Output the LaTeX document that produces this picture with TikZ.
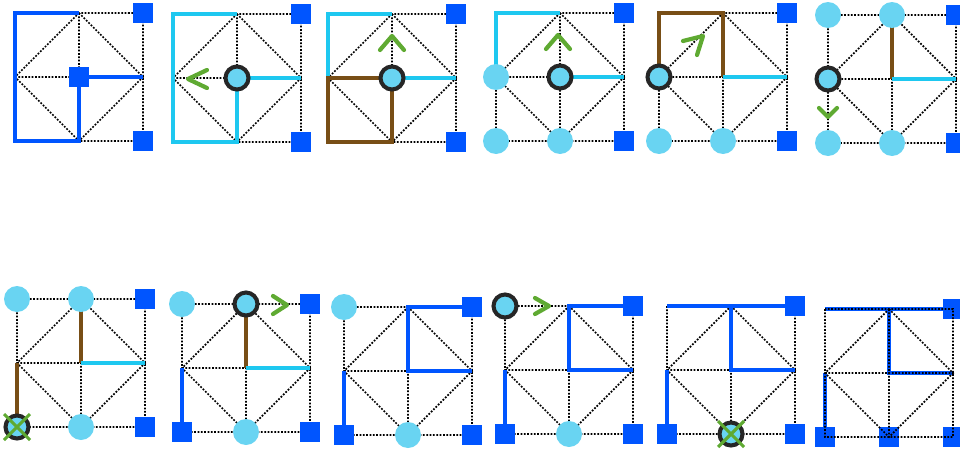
\documentclass[tikz,border=0pt]{standalone}
\usepackage{tikz}
\usetikzlibrary{calc,positioning}

\begin{document}
\begin{tikzpicture}[x=0.02cm,y=-0.02cm]
\definecolor{box blue}{RGB}{0,85,255}
\definecolor{line cyan}{RGB}{30,200,240}
\definecolor{dot cyan}{RGB}{105,212,242}
\definecolor{trail brown}{RGB}{120,78,22}
\definecolor{hint green}{RGB}{95,170,50}
\tikzset{
     lattice/.style={black, line width=1pt, dash pattern=on 1pt off 0.9pt},
     wall/.style={box blue, line width=2pt},
     seen/.style={line cyan, line width=2pt},
     trail/.style={trail brown, line width=2pt},
     goal/.style={rectangle, fill=box blue, minimum size=0.4cm, inner sep=0pt},
     unseen/.style={circle, fill=dot cyan, minimum size=0.52cm, inner sep=0pt},
     agent/.style={circle, fill=dot cyan, draw=black!85, line width=2.3pt, minimum size=0.46cm, inner sep=0pt},
     hint/.style={hint green, line width=2.4pt, line cap=round, line join=round},
     cross/.style={hint green, line width=1.8pt}}

\clip (0,0) rectangle (960,450);

% The boards
\foreach \p/\x/\y in {p1/79/77, p2/237/78, p3/392/78, p4/560/77, p5/723/77, p6/892/79,
                      p7/81/363, p8/246/368, p9/408/371, p10/569/370, p11/731/370, p12/889/373}{
  \coordinate (\p-c)  at (\x,\y);
  \coordinate (\p-tl) at (\x-64,\y-64);
  \coordinate (\p-tm) at (\x,\y-64);
  \coordinate (\p-tr) at (\x+64,\y-64);
  \coordinate (\p-ml) at (\x-64,\y);
  \coordinate (\p-mr) at (\x+64,\y);
  \coordinate (\p-bl) at (\x-64,\y+64);
  \coordinate (\p-bm) at (\x,\y+64);
  \coordinate (\p-br) at (\x+64,\y+64);
}
\foreach \i in {1,...,11}
  \draw [lattice] (p\i-tl) rectangle (p\i-br) (p\i-tm) -- (p\i-bm) (p\i-ml) -- (p\i-mr)
        (p\i-tm) -- (p\i-mr) -- (p\i-bm) -- (p\i-ml) -- cycle;

% Top row
\draw [wall] (p1-tm) -- (p1-tl) -- (p1-bl) -- (p1-bm) -- (p1-c) -- (p1-mr);
\node (g1-c) [goal] at (p1-c) {};

\draw [seen] (p2-tm) -- (p2-tl) -- (p2-bl) -- (p2-bm) -- (p2-c) -- (p2-mr);
\node (a2) [agent] at (p2-c) {};
\coordinate (h2) at (188,79);
\draw [hint] ([shift={(19,-9)}]h2) -- (h2) -- ([shift={(19,9)}]h2);

\draw [seen] (p3-tm) -- (p3-tl) -- (p3-ml) (p3-c) -- (p3-mr);
\draw [trail] (p3-ml) -- (p3-c) -- (p3-bm) -- (p3-bl) -- cycle;
\node (a3) [agent] at (p3-c) {};
\coordinate (h3) at (392,36);
\draw [hint] ([shift={(-12,14)}]h3) -- (h3) -- ([shift={(12,14)}]h3);

\draw [seen] (p4-tm) -- (p4-tl) -- (p4-ml) (p4-c) -- (p4-mr);
\node (u4-ml) [unseen] at (p4-ml) {};
\node (u4-bl) [unseen] at (p4-bl) {};
\node (u4-bm) [unseen] at (p4-bm) {};
\node (a4) [agent] at (p4-c) {};
\coordinate (h4) at (558,35);
\draw [hint] ([shift={(-12,14)}]h4) -- (h4) -- ([shift={(12,14)}]h4);

\draw [trail] (p5-ml) -- (p5-tl) -- (p5-tm) -- (p5-c);
\draw [seen] (p5-c) -- (p5-mr);
\node (u5-bl) [unseen] at (p5-bl) {};
\node (u5-bm) [unseen] at (p5-bm) {};
\node (a5) [agent] at (p5-ml) {};
\coordinate (h5) at (703,36);
\draw [hint] ([shift={(-20,5)}]h5) -- (h5) -- ([shift={(-6,19)}]h5);

\draw [trail] (p6-tm) -- (p6-c);
\draw [seen] (p6-c) -- (p6-mr);
\node (u6-tl) [unseen] at (p6-tl) {};
\node (u6-tm) [unseen] at (p6-tm) {};
\node (u6-bl) [unseen] at (p6-bl) {};
\node (u6-bm) [unseen] at (p6-bm) {};
\node (a6) [agent] at (p6-ml) {};
\coordinate (h6) at (828,117);
\draw [hint] ([shift={(-9,-9)}]h6) -- (h6) -- ([shift={(9,-9)}]h6);

\foreach \i in {1,...,7}{
  \node (g\i-tr) [goal] at (p\i-tr) {};
  \node (g\i-br) [goal] at (p\i-br) {};
}

% Bottom row
\draw [trail] (p7-tm) -- (p7-c) (p7-ml) -- (p7-bl);
\draw [seen] (p7-c) -- (p7-mr);
\node (u7-tl) [unseen] at (p7-tl) {};
\node (u7-tm) [unseen] at (p7-tm) {};
\node (u7-bm) [unseen] at (p7-bm) {};
\node (a7) [agent] at (p7-bl) {};
\draw [cross] ([shift={(-13,-13)}]p7-bl) -- ([shift={(13,13)}]p7-bl)
              ([shift={(-13,13)}]p7-bl) -- ([shift={(13,-13)}]p7-bl);

\draw [trail] (p8-tm) -- (p8-c);
\draw [seen] (p8-c) -- (p8-mr);
\draw [wall] (p8-ml) -- (p8-bl);
\node (u8-tl) [unseen] at (p8-tl) {};
\node (u8-bm) [unseen] at (p8-bm) {};
\node (a8) [agent] at (p8-tm) {};
\coordinate (h8) at (287,305);
\draw [hint] ([shift={(-14,-9)}]h8) -- (h8) -- ([shift={(-14,9)}]h8);

\draw [wall] (p9-tr) -- (p9-tm) -- (p9-c) -- (p9-mr) (p9-ml) -- (p9-bl);
\node (u9-tl) [unseen] at (p9-tl) {};
\node (u9-bm) [unseen] at (p9-bm) {};

\draw [wall] (p10-tr) -- (p10-tm) -- (p10-c) -- (p10-mr) (p10-ml) -- (p10-bl);
\node (u10-bm) [unseen] at (p10-bm) {};
\node (a10) [agent] at (p10-tl) {};
\coordinate (h10) at (549,306);
\draw [hint] ([shift={(-14,-8)}]h10) -- (h10) -- ([shift={(-14,8)}]h10);

\draw [wall] (p11-tl) -- (p11-tr) (p11-tm) -- (p11-c) -- (p11-mr) (p11-ml) -- (p11-bl);
\node (a11) [agent] at (p11-bm) {};
\draw [cross] ([shift={(-13,-13)}]p11-bm) -- ([shift={(13,13)}]p11-bm)
              ([shift={(-13,13)}]p11-bm) -- ([shift={(13,-13)}]p11-bm);

\draw [wall] (p12-tl) -- (p12-tr) (p12-tm) -- (p12-c) -- (p12-mr) (p12-ml) -- (p12-bl);
\node (g12-bm) [goal] at (p12-bm) {};

\foreach \i in {8,...,12}{
  \node (g\i-tr) [goal] at (p\i-tr) {};
  \node (g\i-bl) [goal] at (p\i-bl) {};
  \node (g\i-br) [goal] at (p\i-br) {};
}

% last board: dots over everything
\draw [lattice] (p12-tl) rectangle (p12-br) (p12-tm) -- (p12-bm) (p12-ml) -- (p12-mr)
      (p12-tm) -- (p12-mr) -- (p12-bm) -- (p12-ml) -- cycle;
\end{tikzpicture}
\end{document}
